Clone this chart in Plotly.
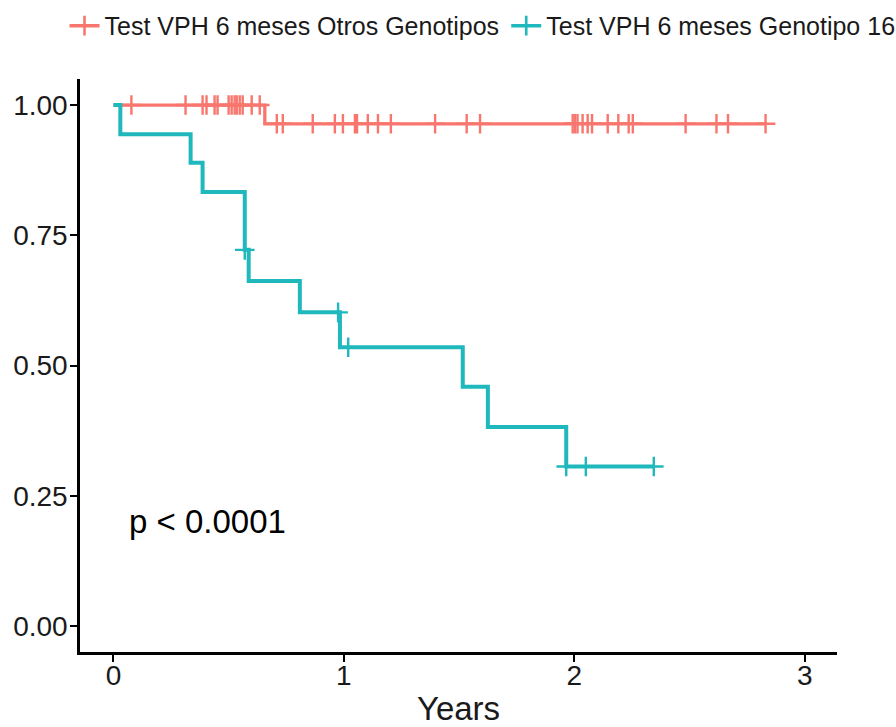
import plotly.graph_objects as go

# ---- data ----
series_names = ["Test VPH 6 meses Otros Genotipos", "Test VPH 6 meses Genotipo 16"]
colors = ["#F8766D", "#1FB8BD"]

# Otros Genotipos: step curve
red_time = [0, 0.657, 2.83]
red_surv = [1.0, 0.964, 0.964]
red_cens_time = [0.078, 0.313, 0.387, 0.404, 0.439, 0.452, 0.50, 0.513, 0.526, 0.535, 0.548, 0.561, 0.60, 0.635,
                 0.709, 0.735, 0.865, 0.961, 0.996, 1.048, 1.057, 1.104, 1.148, 1.204, 1.396,
                 1.533, 1.591, 1.993, 2.003, 2.014, 2.036, 2.058, 2.077, 2.145, 2.191, 2.236, 2.254,
                 2.483, 2.617, 2.667, 2.83]
red_cens_surv = [1.0] * 14 + [0.964] * 27

# Genotipo 16: step curve
blue_time = [0, 0.03, 0.335, 0.387, 0.57, 0.587, 0.809, 0.983, 1.516, 1.625, 1.965, 2.345]
blue_surv = [1.0, 0.944, 0.889, 0.833, 0.722, 0.662, 0.602, 0.535, 0.459, 0.382, 0.306, 0.306]
blue_cens_time = [0.57, 0.975, 1.019, 1.965, 2.05, 2.345]
blue_cens_surv = [0.722, 0.602, 0.535, 0.306, 0.306, 0.306]

x_ticks = [0, 1, 2, 3]
y_ticks = [0.0, 0.25, 0.5, 0.75, 1.0]
y_ticklabels = ["0.00", "0.25", "0.50", "0.75", "1.00"]
pval_text = "p < 0.0001"
x_title = "Years"

FONT = "Liberation Sans, Arial, Helvetica, sans-serif"

fig = go.Figure()

curves = [
    (red_time, red_surv, red_cens_time, red_cens_surv, 3.3),
    (blue_time, blue_surv, blue_cens_time, blue_cens_surv, 4),
]
for i, (t, s, ct, cs, lw) in enumerate(curves):
    fig.add_trace(go.Scatter(x=t, y=s, mode="lines", line=dict(color=colors[i], width=lw, shape="hv"),
                             showlegend=False, hoverinfo="skip"))
    fig.add_trace(go.Scatter(x=ct, y=cs, mode="markers",
                             marker=dict(symbol="cross-thin", size=14, line=dict(color=colors[i], width=2.4)),
                             showlegend=False, hoverinfo="skip"))

legend_ids = ["legend", "legend2"]
for i, name in enumerate(series_names):
    fig.add_trace(go.Scatter(x=[None], y=[None], mode="lines+markers", name=name, legend=legend_ids[i],
                             line=dict(color=colors[i], width=3.5),
                             marker=dict(symbol="cross-thin", size=14, line=dict(color=colors[i], width=2.6))))

fig.add_annotation(x=0.06, y=0.2, xref="x", yref="y", text=pval_text, showarrow=False,
                   xanchor="left", yanchor="middle", font=dict(size=33, color="black", family=FONT))

leg_common = dict(orientation="h", xref="container", yref="container", y=0.996,
                  xanchor="left", yanchor="top", font=dict(size=25, color="#1a1a1a"),
                  itemwidth=30, bgcolor="rgba(0,0,0,0)")

fig.update_layout(
    width=896, height=727,
    margin=dict(l=80, r=59, t=79, b=75, autoexpand=False),
    paper_bgcolor="white", plot_bgcolor="white",
    font=dict(family=FONT, color="#1a1a1a"),
    legend=dict(x=0.072, **leg_common),
    legend2=dict(x=0.565, **leg_common),
    xaxis=dict(range=[-0.145, 3.14], tickvals=x_ticks, showgrid=False, zeroline=False,
               showline=True, linecolor="black", linewidth=2.5, ticks="outside", ticklen=7,
               tickwidth=2, tickcolor="black", tickfont=dict(size=28, color="#1a1a1a"),
               ticklabelstandoff=-10,
               title=dict(text=x_title, font=dict(size=33, color="#1a1a1a"), standoff=15)),
    yaxis=dict(range=[-0.05, 1.05], tickvals=y_ticks, ticktext=y_ticklabels, showgrid=False,
               zeroline=False, showline=True, linecolor="black", linewidth=2.5, ticks="outside",
               ticklen=7, tickwidth=2, tickcolor="black", tickfont=dict(size=28, color="#1a1a1a"),
               ticklabelstandoff=-3),
)

fig.write_html("out.html")
